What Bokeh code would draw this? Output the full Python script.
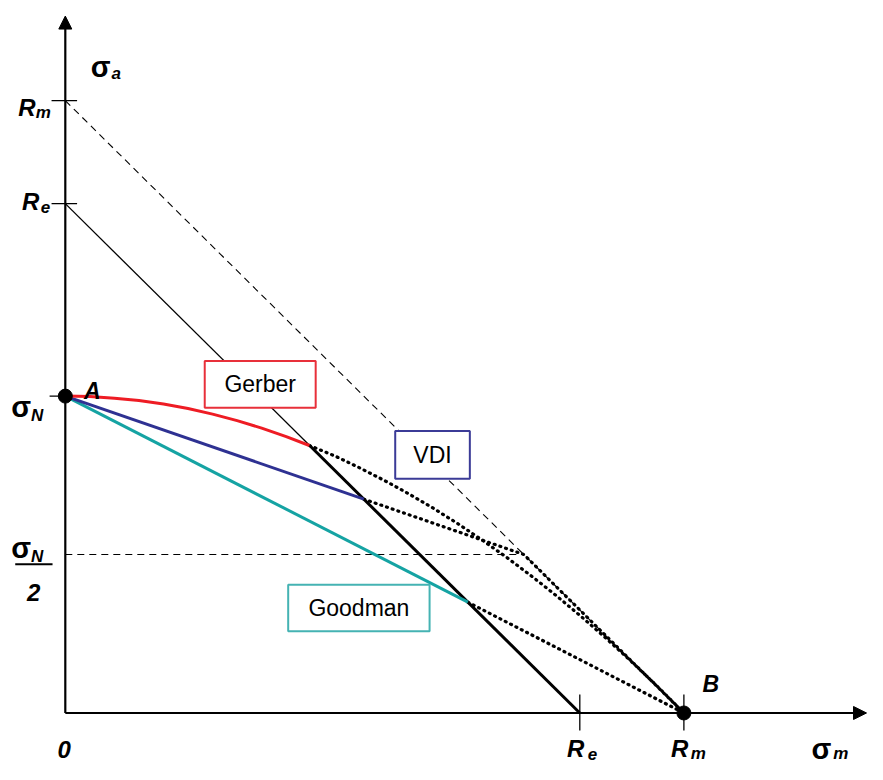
from bokeh.plotting import figure
from bokeh.models import Arrow, NormalHead, Range1d
from bokeh.core.properties import value
from bokeh.embed import file_html
from bokeh.resources import INLINE

# ---- values (common stress unit) ----
Rm = 630          # tensile strength
Re = 524          # yield strength
sigma_N = 326     # fatigue limit (alternating)

# Gerber parabola, points
gerber_sm = [0, 25, 50, 75, 100, 125, 150, 175, 200, 225, 248.6]
gerber_sa = [326, 325.5, 323.9, 321.4, 317.8, 313.2, 307.5, 300.8, 293.1, 284.4, 275.2]
gerber_dot_sm = [248.6, 275, 300, 325, 350, 375, 400, 425, 450, 475, 500, 525, 550, 575, 600, 615, 630]
gerber_dot_sa = [275.2, 264.2, 252.1, 239.2, 225.4, 210.5, 194.6, 177.6, 159.7, 140.7, 120.7,
                 99.6, 77.5, 54.4, 30.3, 15.3, 0]

# VDI polyline
vdi_sm = [0, 304]
vdi_sa = [326, 220]
vdi_dot_sm = [304, 467, 630]
vdi_dot_sa = [220, 163, 0]

# Goodman line
goodman_sm = [0, 410]
goodman_sa = [326, 114]
goodman_dot_sm = [410, 630]
goodman_dot_sa = [114, 0]

# Yield line (Re - Re), split where Gerber meets it
yield_thin_sm = [0, 248.6]
yield_thin_sa = [524, 275.4]
yield_thick_sm = [248.6, 524]
yield_thick_sa = [275.4, 0]

# Rm - Rm line and sigma_N/2 level
rm_line_sm = [0, 630]
rm_line_sa = [630, 0]
half_sm = [0, 467]
half_sa = [163, 163]

box_names = ["Gerber", "VDI", "Goodman"]
box_colors = ["#e8303a", "#3b3b97", "#45b3b3"]
line_colors = {"Gerber": "#ee1c24", "VDI": "#2e3192", "Goodman": "#15a3a3"}

FONT = value("Liberation Sans")

p = figure(width=867, height=764,
           x_range=Range1d(-66, 817), y_range=Range1d(-53, 733),
           output_backend="svg", toolbar_location=None,
           x_axis_location=None, y_axis_location=None, min_border=0)
p.grid.visible = False
p.outline_line_color = None
p.background_fill_color = "white"
p.border_fill_color = "white"

# axes with arrows
p.add_layout(Arrow(end=NormalHead(size=13, fill_color="black", line_color="black", line_width=1),
                   x_start=0, y_start=0, x_end=0, y_end=717, line_width=2.2, line_color="black"))
p.add_layout(Arrow(end=NormalHead(size=13, fill_color="black", line_color="black", line_width=1),
                   x_start=0, y_start=0, x_end=816, y_end=0, line_width=2.2, line_color="black"))

# ticks on y axis
p.segment(x0=[-14, -14, -16], y0=[Rm, Re, sigma_N], x1=[12, 12, 0], y1=[Rm, Re, sigma_N],
          line_color="black", line_width=1.3)
# ticks on x axis
p.segment(x0=[Re, Rm], y0=[-18, -18], x1=[Re, Rm], y1=[19, 19], line_color="black", line_width=1.3)

# reference lines
p.line(rm_line_sm, rm_line_sa, line_color="black", line_width=1.1, line_dash="7 5")
p.line(half_sm, half_sa, line_color="black", line_width=1.1, line_dash="7 5")
p.line(yield_thin_sm, yield_thin_sa, line_color="black", line_width=1.3)
p.line(yield_thick_sm, yield_thick_sa, line_color="black", line_width=3)

# dotted continuations
for xs, ys in [(gerber_dot_sm, gerber_dot_sa), (vdi_dot_sm, vdi_dot_sa), (goodman_dot_sm, goodman_dot_sa)]:
    p.line(xs, ys, line_color="black", line_width=3.2, line_dash="1 5", line_cap="round")

# criteria curves
p.line(goodman_sm, goodman_sa, line_color=line_colors["Goodman"], line_width=3)
p.line(vdi_sm, vdi_sa, line_color=line_colors["VDI"], line_width=3)
p.line(gerber_sm, gerber_sa, line_color=line_colors["Gerber"], line_width=3)

# label boxes (white fill hides lines behind them)
box_left = [142, 336, 227]
box_right = [255, 412, 371]
box_top = [362, 290, 132]
box_bottom = [314, 241, 84]
p.quad(left=box_left, right=box_right, top=box_top, bottom=box_bottom,
       fill_color="white", line_color=box_colors, line_width=2)
p.text(x=[(l + r) / 2 for l, r in zip(box_left, box_right)],
       y=[(t + b) / 2 for t, b in zip(box_top, box_bottom)],
       text=box_names, text_font=FONT, text_font_size="23px",
       text_align="center", text_baseline="middle", text_color="black")

# points A and B
p.scatter([0, Rm], [sigma_N, 0], size=14, fill_color="black", line_color="black")


def txt(x, y, s, size, style="bold italic", align="left", baseline="alphabetic"):
    p.text(x=[x], y=[y], text=[s], text_font=FONT, text_font_size=size,
           text_font_style=style, text_align=align, text_baseline=baseline, text_color="black")


SIG = "29px"
BIG = "24px"
SUB = "17px"

# y-axis labels
txt(-48, Rm - 7, "R", BIG)
txt(-30, Rm - 12, "m", SUB)
txt(-44, Re + 2, "R", BIG)
txt(-25, Re - 3, "e", SUB)
txt(-55, sigma_N - 11, "σ", SIG, style="bold")
txt(-35, sigma_N - 20, "N", SUB)
txt(-55, sigma_N / 2 + 7, "σ", SIG, style="bold")
txt(-35, sigma_N / 2 - 2, "N", SUB)
p.segment(x0=[-51], y0=[sigma_N / 2 - 10], x1=[-13], y1=[sigma_N / 2 - 10], line_color="black", line_width=2)
txt(-39, sigma_N / 2 - 39, "2", BIG)
txt(26, 665, "σ", SIG, style="bold")
txt(47, 658, "a", SUB)

# x-axis labels (kept inside the bottom edge)
txt(-8, -38, "0", BIG)
txt(Re - 13, -37, "R", BIG)
txt(Re + 8, -42, "e", SUB)
txt(Rm - 13, -37, "R", BIG)
txt(Rm + 7, -42, "m", SUB)
txt(760, -37, "σ", SIG, style="bold")
txt(782, -42, "m", SUB)

# point labels
txt(19, 331, "A", "23px")
txt(Rm + 19, 30, "B", "23px")

open("out.html", "w").write(file_html(p, INLINE))
